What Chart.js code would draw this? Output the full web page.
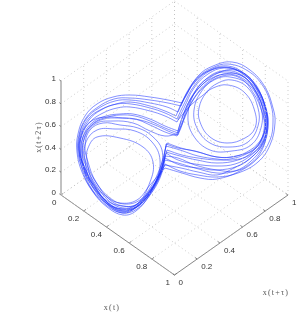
<!DOCTYPE html>
<html><head><meta charset="utf-8">
<style>html,body{margin:0;padding:0;background:#fff}canvas{display:block}</style>
<script src="https://cdn.jsdelivr.net/npm/chart.js@4"></script></head>
<body><div style="width:299px;height:315px"><canvas id="c" width="299" height="315"></canvas></div>
<script>
const tickValues=[0,0.2,0.4,0.6,0.8,1];
const tickLabels=["0","0.2","0.4","0.6","0.8","1"];
const axisNames=["x(t)","x(t+\u03c4)","x(t+2\u03c4)"];
// trajectory, in the projected view plane, one list per pass between two sharp turns
const orbit=[
[[178,120],[190,106],[202,96],[213,88],[228,85],[245,93],[255,112],[255,128],[245,138],[227,143],[210,137],[200,122],[199,108],[206,93],[218,83],[232,80],[248,88],[258,108],[258,126],[248,142],[230,147],[210,143],[197,128],[194,110],[201,92],[214,80],[230,77],[250,86],[261,108],[261,128],[251,145],[232,151],[210,150],[193,135],[188,115],[195,92],[208,78],[226,72],[248,80],[263,104],[265,128],[255,148],[236,156],[217,157],[195,151],[178,148],[166,144]],
[[166,144],[162,168],[152,190],[137,207],[123,212],[108,204],[95,188],[85,170],[79,153],[81,136],[89,120],[101,110],[116,104],[130,102],[150,106],[165,111],[176,116]],
[[176,116],[183,100],[195,82],[210,70],[228,66],[245,74],[258,90],[266,108],[268,127],[263,146],[250,162],[235,171],[217,173],[195,168],[178,163],[165,160]],
[[165,160],[160,178],[150,195],[137,209],[123,213],[109,206],[95,190],[84,172],[78,153],[79,135],[86,118],[98,107],[114,99],[130,98],[150,100],[168,103],[181,106]],
[[181,106],[187,92],[197,78],[212,68],[228,64],[248,71],[263,86],[271,105],[273,122],[270,140],[258,158],[240,171],[217,179],[200,178],[182,173],[165,168]],
[[165,168],[150,185],[137,200],[120,203],[107,197],[93,182],[87,160],[88,148],[97,137],[120,138],[143,147],[153,162],[150,182],[137,204],[122,206],[106,200],[91,183],[85,160],[86,142],[97,130],[115,129],[135,131],[152,142],[160,160],[155,183],[140,205],[123,209],[106,203],[90,186],[83,162],[84,140],[95,124],[113,121],[133,123],[150,131],[165,136],[177,134]],
[[177,134],[182,118],[190,100],[203,84],[218,73],[235,70],[252,80],[263,100],[267,122],[263,142],[250,156],[235,164],[217,166],[195,164],[178,160],[166,153]],
[[166,153],[160,176],[149,196],[136,211],[123,215],[107,207],[93,192],[82,172],[77,152],[78,134],[85,116],[97,104],[113,97],[130,95],[150,97],[168,100],[182,103]],
[[182,103],[186,96],[198,76],[213,66],[232,62],[250,70],[265,87],[273,108],[275,123],[270,145],[258,162],[238,173],[217,177],[198,175],[180,171],[165,164]],
[[165,164],[158,180],[147,197],[135,208],[123,211],[108,203],[95,186],[85,168],[80,152],[82,135],[90,122],[103,113],[117,108],[130,107],[150,111],[165,116],[177,122]],
[[177,122],[184,108],[194,88],[208,74],[224,68],[242,72],[256,86],[265,106],[267,126],[261,144],[248,156],[232,160],[217,159],[198,156],[180,150],[166,146]],
[[166,146],[160,172],[149,192],[136,205],[123,208],[109,201],[96,185],[86,166],[82,150],[84,134],[93,122],[106,116],[120,114],[133,114],[150,119],[165,126],[178,131]],
[[178,131],[183,116],[192,96],[206,79],[222,71],[240,74],[254,88],[263,108],[266,125],[260,141],[247,152],[232,157],[217,157],[198,152],[181,148],[167,143]],
[[167,143],[160,168],[150,188],[137,204],[123,206],[110,200],[97,184],[87,165],[83,149],[86,133],[95,122],[108,117],[120,115],[135,116],[150,121],[165,128],[178,133]],
[[178,133],[184,118],[194,98],[208,82],[224,74],[242,76],[256,92],[264,112],[265,130],[258,146],[244,155],[230,159],[217,160],[198,158],[182,155],[167,150]],
[[167,150],[161,170],[151,191],[137,206],[123,210],[108,203],[95,187],[84,170],[81,153],[83,137],[92,125],[104,119],[118,118],[135,119],[150,125],[165,132],[177,136]],
[[177,136],[183,122],[192,102],[205,86],[222,76],[240,78],[254,94],[262,112],[266,132],[262,150],[250,164],[235,171],[217,170],[195,165],[178,158],[165,156]],
[[165,156],[159,176],[148,194],[135,206],[122,209],[107,202],[94,186],[84,166],[79,150],[81,133],[89,118],[102,109],[117,104],[131,104],[150,108],[165,113],[177,119]],
[[177,119],[184,104],[194,86],[208,72],[226,67],[243,74],[257,88],[265,106],[268,124],[264,142],[253,156],[238,166],[217,170],[198,168],[180,165],[165,158]],
[[165,158],[158,178],[146,196],[134,209],[122,213],[106,205],[92,190],[83,172],[79,150],[80,133],[87,118],[99,108],[115,101],[130,100],[150,103],[167,107],[178,112]],
[[178,112],[185,97],[196,80],[211,70],[229,68],[246,76],[259,93],[266,112],[267,130],[260,148],[248,160],[234,168],[217,175],[198,172],[181,168],[165,165]],
[[165,165],[154,184],[140,200],[124,204],[110,198],[96,182],[88,162],[85,146],[90,130],[103,123],[120,125],[138,128],[152,136],[162,150],[160,170],[150,192],[136,207],[122,211],[107,204],[93,188],[84,168],[80,148],[83,131],[93,120],[108,117],[122,118],[140,120],[155,125],[168,131],[178,135]],
[[178,135],[182,125],[187,108],[197,90],[212,78],[228,74],[245,80],[258,96],[264,118],[262,138],[252,152],[238,160],[217,163],[197,160],[180,156],[166,152]]
];
function project(x,y,z){return {x:61+113.5*x+113.5*y,y:195+80*x-80*y-114*z};}
function seg(a,b){return [project(...a),project(...b)];}
const grid=[];
tickValues.forEach(t=>{
  grid.push(seg([t,0,0],[t,1,0]),seg([0,t,0],[1,t,0]));
  grid.push(seg([0,t,0],[0,t,1]),seg([0,0,t],[0,1,t]));
  grid.push(seg([t,1,0],[t,1,1]),seg([0,1,t],[1,1,t]));
});
const axes=[seg([0,0,0],[0,0,1]),seg([0,0,0],[1,0,0]),seg([1,0,0],[1,1,0])];
const ticks=[];
tickValues.forEach(t=>{
  ticks.push(seg([0,0,t],[-0.015,0,t]),seg([t,0,0],[t,0.02,0]),seg([1,t,0],[0.98,t,0]));
});
const ds=[];
grid.forEach(g=>ds.push({data:g,borderColor:'#c0c0c0',borderWidth:0.8,borderDash:[1,3],pointRadius:0,showLine:true}));
axes.concat(ticks).forEach(g=>ds.push({data:g,borderColor:'#666',borderWidth:0.8,pointRadius:0,showLine:true}));
orbit.forEach(pass=>ds.push({data:pass.map(p=>({x:p[0],y:p[1]})),borderColor:'#1f35ff',borderWidth:0.55,pointRadius:0,showLine:true,tension:0.4}));
const textPlugin={id:'labels3d',afterDraw(ch){
  const c=ch.ctx,sx=ch.scales.x,sy=ch.scales.y;
  const put=(p,dx,dy,s,al)=>{c.textAlign=al;c.textBaseline='middle';c.fillText(s,sx.getPixelForValue(p.x)+dx,sy.getPixelForValue(p.y)+dy);};
  c.save();c.fillStyle='#333';c.font='8px "Liberation Sans"';
  tickValues.forEach((t,i)=>{
    put(project(0,0,t),-5,-2,tickLabels[i],'right');
    put(project(t,0,0),-4.5,8,tickLabels[i],'right');
    put(project(1,t,0),4,8,tickLabels[i],'left');
  });
  c.fillStyle='#555';c.font='8px "Liberation Serif"';c.letterSpacing='1.2px';
  c.textAlign='center';c.textBaseline='middle';
  c.fillText(axisNames[0],112,308);c.fillText(axisNames[1],276,293);
  c.translate(39,137);c.rotate(-Math.PI/2);c.fillText(axisNames[2],0,0);
  c.restore();
}};
new Chart(document.getElementById('c'),{type:'scatter',data:{datasets:ds},plugins:[textPlugin],options:{
  responsive:false,animation:false,layout:{padding:0},
  plugins:{legend:{display:false},tooltip:{enabled:false}},
  scales:{x:{type:'linear',min:0,max:299,display:false},y:{type:'linear',min:0,max:315,reverse:true,display:false}}
}});
</script></body></html>
